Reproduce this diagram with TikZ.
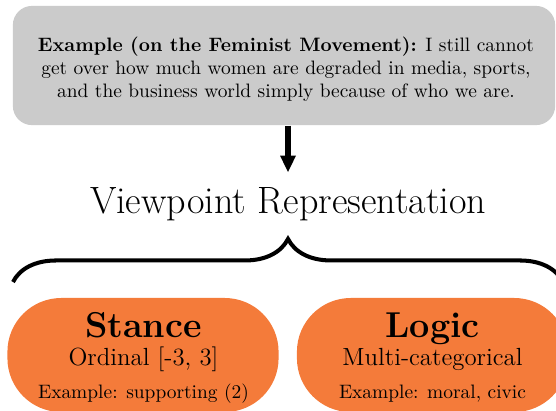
\documentclass[tikz,border=0pt]{standalone}
\usepackage{tikz}
\usepackage{xcolor}
\usetikzlibrary{decorations.pathreplacing, arrows.meta}

\definecolor{examplegray}{RGB}{203,203,203}
\definecolor{dimorange}{RGB}{244,123,58}

\begin{document}
\begin{tikzpicture}[x=0.52pt, y=-0.52pt,
        examplebox/.style={fill=examplegray, rounded corners=10pt, minimum width=282pt, minimum height=62pt},
        dimbox/.style={fill=dimorange, rounded corners=28pt, minimum width=141pt, minimum height=59.3pt},
        pointer/.style={line width=3.4pt, -{Triangle[width=7.6pt, length=8.8pt]}},
        bracket/.style={line width=2.1pt, decorate, decoration={brace, amplitude=22.4pt}}]
                        \useasboundingbox (0, 0) rectangle (556, 410);
                        \clip (0, 0) rectangle (556, 410);

                        \node[examplebox] (example) at (284, 65.5) {};
                        \node[align=center, font=\fontsize{10.1}{12}\selectfont] (exampletext) at (286, 69)
                        {\textbf{Example (on the Feminist Movement):} I still cannot\\
                        get over how much women are degraded in media, sports,\\
                        and the business world simply because of who we are.};

                        \node[anchor=base] (title) at (288, 213) {\fontsize{19.8}{24}\selectfont Viewpoint Representation};

                        \coordinate (braceleft) at (13, 282);
                        \coordinate (braceright) at (563, 282);
                        \draw[bracket] (braceleft) -- (braceright);

                        \node[dimbox] (stance) at (143, 355) {};
                        \node[dimbox] (logic) at (432.5, 355) {};

                        \node[anchor=base] (stancename) at (143.5, 337) {\fontsize{18.7}{22}\selectfont\bfseries Stance};
                        \node[anchor=base] (stancetype) at (143.5, 365) {\fontsize{12.9}{15}\selectfont Ordinal [-3, 3]};
                        \node[anchor=base] (stanceexample) at (143.5, 398) {\fontsize{10.1}{12}\selectfont Example: supporting (2)};

                        \node[anchor=base] (logicname) at (432.5, 337) {\fontsize{18.7}{22}\selectfont\bfseries Logic};
                        \node[anchor=base] (logictype) at (432.5, 365) {\fontsize{12.9}{15}\selectfont Multi-categorical};
                        \node[anchor=base] (logicexample) at (432.5, 398) {\fontsize{10.1}{12}\selectfont Example: moral, civic};

                        \draw[pointer, shorten >=4pt] (example.south -| title) -- (title.north);
                    \end{tikzpicture}
\end{document}
